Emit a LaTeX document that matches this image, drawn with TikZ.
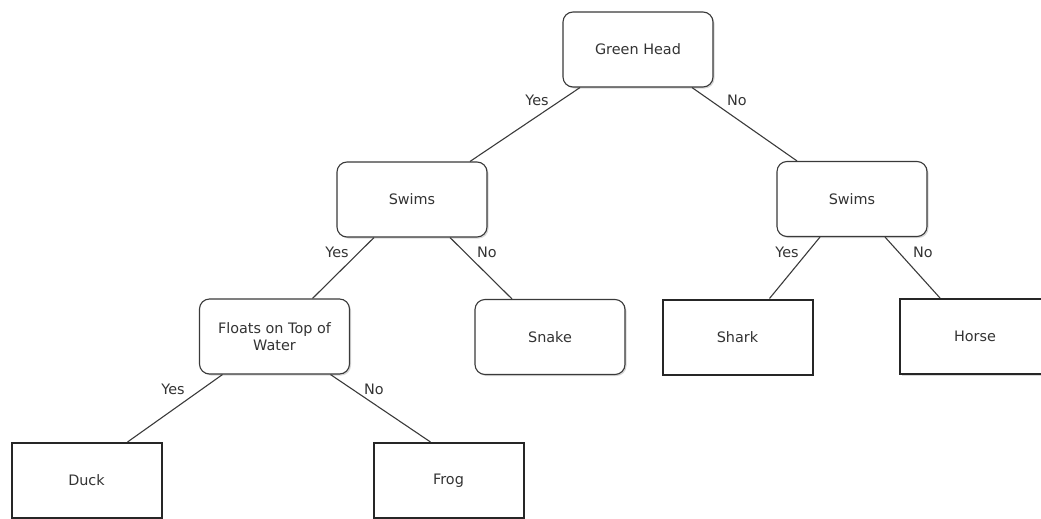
\documentclass[tikz,border=0pt]{standalone}
\usepackage{fontspec}
\setmainfont{DejaVu Sans}
\usetikzlibrary{shadows}

\definecolor{linegray}{HTML}{3A3A3A}
\definecolor{textgray}{HTML}{333333}

\begin{document}
\begin{tikzpicture}[x=1pt,y=-1pt,
    font=\fontsize{14.4}{17}\selectfont,
    every shadow/.style={fill=black!35,opacity=0.45},
    question/.style={draw=linegray,line width=1.1pt,rounded corners=10pt,fill=white,
      minimum width=150pt,minimum height=75pt,inner sep=0pt,align=center,
      text=textgray,drop shadow={shadow xshift=1.5pt,shadow yshift=-1.5pt}},
    animal/.style={draw=black!85,line width=2pt,fill=white,
      minimum width=150pt,minimum height=75pt,inner sep=0pt,
      text=textgray,drop shadow={shadow xshift=1.5pt,shadow yshift=-1.5pt}},
    answer/.style={text=textgray,inner sep=0pt}]

      \useasboundingbox (0,0) rectangle (1041,519);

      % questions
      \node[question] (gh)  at (638,49.5)   {Green Head};
      \node[question] (swl) at (412,199.5)  {Swims};
      \node[question] (swr) at (852,199)    {Swims};
      \node[question] (fl)  at (274.5,336.5) {Floats on Top of\\Water};
      \node[question] (snake) at (550,337)  {Snake};

      % animals
      \node[animal] (shark) at (737.5,337)  {Shark};
      \node[animal] (horse) at (975,336.5)  {Horse};
      \node[animal] (duck)  at (86.5,480.5) {Duck};
      \node[animal] (frog)  at (448.5,480.5) {Frog};

      \begin{scope}[every path/.style={draw=linegray,line width=1.1pt}]
        \draw ([xshift=-58pt]gh.south) -- ([xshift=58pt]swl.north);
        \draw ([xshift=54pt]gh.south) -- ([xshift=-55pt]swr.north);

        \draw ([xshift=-38pt]swl.south) -- ([xshift=38pt]fl.north);
        \draw ([xshift=38pt]swl.south) -- ([xshift=-38pt]snake.north);

        \draw ([xshift=-32pt]swr.south) -- ([xshift=32pt]shark.north);
        \draw ([xshift=33pt]swr.south) -- ([xshift=-35pt]horse.north);

        \draw ([xshift=-52pt]fl.south) -- ([xshift=41pt]duck.north);
        \draw ([xshift=56pt]fl.south) -- ([xshift=-18pt]frog.north);
      \end{scope}

      % yes / no
      \node[answer] (ghyes)  at (537,100) {Yes};
      \node[answer] (ghno)   at (737,100) {No};
      \node[answer] (swlyes) at (337,252) {Yes};
      \node[answer] (swlno)  at (487,252) {No};
      \node[answer] (swryes) at (787,252) {Yes};
      \node[answer] (swrno)  at (923,252) {No};
      \node[answer] (flyes)  at (173,389) {Yes};
      \node[answer] (flno)   at (374,389) {No};

    \end{tikzpicture}
\end{document}
